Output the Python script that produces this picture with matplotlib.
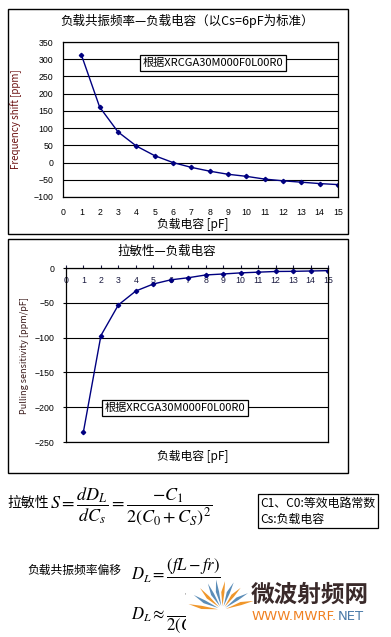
import matplotlib
matplotlib.use("Agg")
import matplotlib.pyplot as plt
from matplotlib.patches import Rectangle, Polygon
import numpy as np

plt.rcParams['font.family'] = ['Noto Sans CJK SC', 'DejaVu Sans']
plt.rcParams['mathtext.fontset'] = 'stix'

# data
cap_pf = [1, 2, 3, 4, 5, 6, 7, 8, 9, 10, 11, 12, 13, 14, 15]
freq_shift = [313, 161, 89, 48, 20, 0, -14, -25, -34, -40, -48, -53, -57, -61, -64]
pull_sens = [-235, -97, -53, -33, -23, -17, -14, -10, -8.6, -7, -6, -5, -4.8, -4.3, -3.8]

x_ticks = list(range(0, 16))
y_ticks_top = [-100, -50, 0, 50, 100, 150, 200, 250, 300, 350]
y_ticks_bot = [-250, -200, -150, -100, -50, 0]

title_top = "负载共振频率—负载电容（以Cs=6pF为标准）"
title_bot = "拉敏性—负载电容"
xlabel = "负载电容 [pF]"
ylabel_top = "Frequency shift [ppm]"
ylabel_bot = "Pulling sensitivity [ppm/pF]"
note = "根据XRCGA30M000F0L00R0"

W, H = 391, 637
fig = plt.figure(figsize=(W / 100, H / 100), dpi=100)


def fx(x):
    return x / W


def fy(y):
    return 1 - y / H


def box(x0, y0, x1, y1, lw=1.0):
    fig.add_artist(Rectangle((fx(x0), fy(y1)), fx(x1) - fx(x0), fy(y0) - fy(y1),
                             transform=fig.transFigure, fill=False, ec='black', lw=lw))


line_kw = dict(color='#000080', lw=1.0, marker='D', ms=2.2)
tick_font = dict(family='Liberation Sans', size=6.3)

# ---- top chart ----
box(8, 9, 348, 234)
ax1 = fig.add_axes([fx(63), fy(197), fx(338) - fx(63), fy(42) - fy(197)])
ax1.plot(cap_pf, freq_shift, **line_kw)
ax1.set_xlim(0, 15)
ax1.set_ylim(-100, 350)
ax1.set_xticks(x_ticks)
ax1.set_yticks(y_ticks_top)
ax1.grid(axis='y', color='black', lw=0.8)
ax1.tick_params(axis='both', length=0)
ax1.tick_params(axis='x', pad=8)
ax1.tick_params(axis='y', pad=7)
for lab in ax1.get_xticklabels() + ax1.get_yticklabels():
    lab.set_fontproperties(tick_font)
for s in ax1.spines.values():
    s.set_lw(0.9)
ax1.set_ylabel(ylabel_top, fontsize=7, color='#6b1010', labelpad=8)
fig.text(fx(187), fy(21), title_top, fontsize=9, ha='center', va='center')
fig.text(fx(193), fy(224), xlabel, fontsize=8.5, ha='center', va='center')
fig.text(fx(213), fy(63), note, fontsize=8, ha='center', va='center',
         bbox=dict(boxstyle='square,pad=0.25', fc='white', ec='black', lw=0.9))

# ---- bottom chart ----
box(8, 239, 348, 473)
ax2 = fig.add_axes([fx(66), fy(442), fx(328) - fx(66), fy(268) - fy(442)])
ax2.plot(cap_pf, pull_sens, **line_kw)
ax2.set_xlim(0, 15)
ax2.set_ylim(-250, 0)
ax2.set_xticks(x_ticks)
ax2.set_yticks(y_ticks_bot)
ax2.grid(axis='y', color='black', lw=0.8)
ax2.tick_params(axis='x', top=True, bottom=False, labeltop=True, labelbottom=False,
                direction='out', length=2.5, pad=-14.5, colors='#1a1a40')
ax2.tick_params(axis='y', direction='out', length=2.5, pad=6)
for lab in ax2.get_xticklabels() + ax2.get_yticklabels():
    lab.set_fontproperties(tick_font)
for s in ax2.spines.values():
    s.set_lw(0.9)
ax2.set_ylabel(ylabel_bot, fontsize=6.5, color='#3a1a1a', labelpad=4)
fig.text(fx(167), fy(251), title_bot, fontsize=9, ha='center', va='center')
fig.text(fx(193), fy(456), xlabel, fontsize=8.5, ha='center', va='center')
fig.text(fx(175), fy(408), note, fontsize=8, ha='center', va='center',
         bbox=dict(boxstyle='square,pad=0.25', fc='white', ec='black', lw=0.9))

# ---- formulas ----
fig.text(fx(7), fy(503), "拉敏性", fontsize=10, ha='left', va='center')
fig.text(fx(50), fy(506),
         r'$S=\dfrac{dD_L}{dC_s}=\dfrac{-C_1}{2\left(C_0+C_S\right)^2}$',
         fontsize=13, ha='left', va='center')
fig.text(fx(260), fy(511), "C1、C0:等效电路常数\nCs:负载电容", fontsize=8.6,
         ha='left', va='center', linespacing=1.3,
         bbox=dict(boxstyle='square,pad=0.2', fc='white', ec='black', lw=0.9))
fig.text(fx(27), fy(570), "负载共振频率偏移", fontsize=8.5, ha='left', va='center')
fig.text(fx(131), fy(577), r'$D_L=\dfrac{\left(fL-fr\right)}{fr}$',
         fontsize=12, ha='left', va='center')
fig.text(fx(131), fy(616), r'$D_L\approx\dfrac{C_1}{2\left(C_0+C_L\right)}$',
         fontsize=12, ha='left', va='center')

# watermark covering part of the formulas
fig.add_artist(Rectangle((fx(186), 0), 1 - fx(186), fy(579), transform=fig.transFigure,
                         fc='white', ec='none', zorder=5))
cx, cy = 222, 610
angles = [170, 152, 135, 118, 101, 84, 67, 50, 33, 16]
lengths = [30, 28, 27, 26, 27, 25, 26, 25, 27, 29]
cols = ['#f0962a', '#5b8db8', '#f0962a', '#5b8db8', '#5b8db8',
        '#f0962a', '#5b8db8', '#f0962a', '#5b8db8', '#f0962a']
for a, L, c in zip(angles, lengths, cols):
    t = np.radians(a)
    n = np.array([-np.sin(t), np.cos(t)])
    d = np.array([np.cos(t), np.sin(t)])
    base = np.array([cx, cy])
    p0 = base + d * 4
    p1 = base + d * (4 + L * 0.55) + n * 2.6
    p2 = base + d * (4 + L)
    p3 = base + d * (4 + L * 0.55) - n * 0.6
    pts = [(fx(p[0]), 1 - (2 * cy - p[1]) / H) for p in (p0, p1, p2, p3)]
    fig.add_artist(Polygon(pts, closed=True, transform=fig.transFigure,
                           fc=c, ec='none', zorder=6))
fig.text(fx(251), fy(595), "微波射频网", fontsize=17, fontweight='heavy',
         color='#3a2a2a', ha='left', va='center', zorder=7)
url1 = fig.text(fx(252), fy(617), "WWW.MWRF.", fontsize=9.5, color='#f08020',
                ha='left', va='center', family='DejaVu Sans', zorder=7)
fig.canvas.draw()
bb = url1.get_window_extent()
fig.text(bb.x1 / fig.bbox.width + 0.002, fy(617), "NET", fontsize=9.5, color='#4a7aa8',
         ha='left', va='center', family='DejaVu Sans', zorder=7)

fig.savefig("out.png", dpi=100)
